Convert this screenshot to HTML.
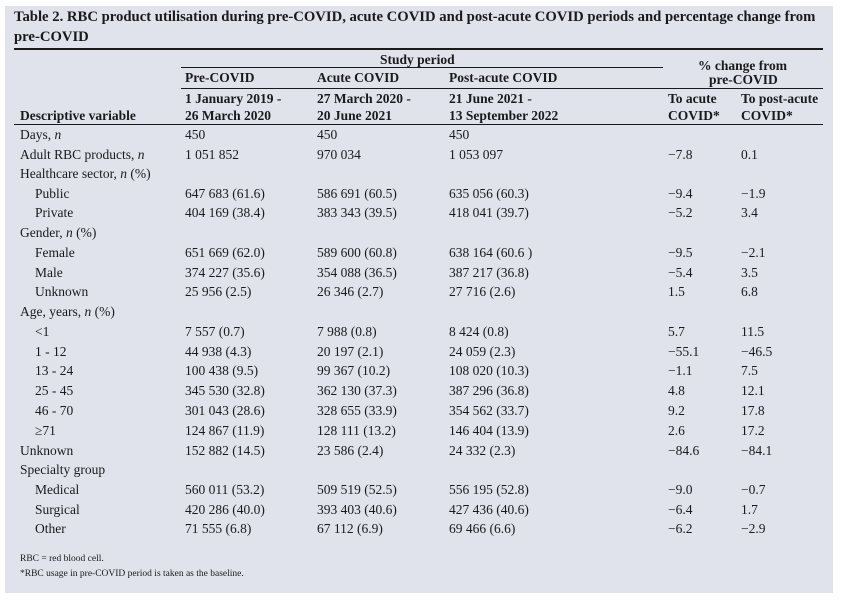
<!DOCTYPE html>
<html><head><meta charset="utf-8"><style>
body{margin:0;width:844px;height:601px;background:#fff;position:relative;overflow:hidden;font-family:"Liberation Serif",serif;color:#1a1a1a}
#box{position:absolute;left:5px;top:6px;width:828px;height:587px;background:#e1e3ec}
.t{position:absolute;font-size:13.5px;line-height:18px;white-space:nowrap}
.b{font-weight:bold}
.r{position:absolute;background:#1a1a1a}
.f{position:absolute;font-size:9.5px;line-height:12px;white-space:nowrap}
</style></head><body>
<div id="box"></div>
<div class="t b" style="left:14px;top:8px;font-size:14.7px">Table 2. RBC product utilisation during pre-COVID, acute COVID and post-acute COVID periods and percentage change from</div>
<div class="t b" style="left:14px;top:28px;font-size:14.7px">pre-COVID</div>
<div class="r" style="left:14px;top:48px;width:809px;height:2px"></div>
<div class="t b" style="left:380px;top:51px">Study period</div>
<div class="r" style="left:181px;top:67px;width:482px;height:1px"></div>
<div class="t b" style="left:698px;top:57px">% change from</div>
<div class="t b" style="left:709px;top:71px">pre-COVID</div>
<div class="t b" style="left:185px;top:69px">Pre-COVID</div>
<div class="t b" style="left:317px;top:69px">Acute COVID</div>
<div class="t b" style="left:449px;top:69px">Post-acute COVID</div>
<div class="r" style="left:181px;top:88px;width:642px;height:1px"></div>
<div class="t b" style="left:185px;top:90px">1 January 2019 -</div>
<div class="t b" style="left:185px;top:107px">26 March 2020</div>
<div class="t b" style="left:317px;top:90px">27 March 2020 -</div>
<div class="t b" style="left:317px;top:107px">20 June 2021</div>
<div class="t b" style="left:449px;top:90px">21 June 2021 -</div>
<div class="t b" style="left:449px;top:107px">13 September 2022</div>
<div class="t b" style="left:668px;top:90px">To acute</div>
<div class="t b" style="left:668px;top:107px">COVID*</div>
<div class="t b" style="left:741px;top:90px">To post-acute</div>
<div class="t b" style="left:741px;top:107px">COVID*</div>
<div class="t b" style="left:20px;top:107px">Descriptive variable</div>
<div class="r" style="left:14px;top:124px;width:809px;height:1px"></div>

<div class="t" style="left:20px;top:126px">Days, <i>n</i></div><div class="t" style="left:185px;top:126px">450</div><div class="t" style="left:317px;top:126px">450</div><div class="t" style="left:449px;top:126px">450</div>
<div class="t" style="left:20px;top:146px">Adult RBC products, <i>n</i></div><div class="t" style="left:185px;top:146px">1 051 852</div><div class="t" style="left:317px;top:146px">970 034</div><div class="t" style="left:449px;top:146px">1 053 097</div><div class="t" style="left:668px;top:146px">−7.8</div><div class="t" style="left:741px;top:146px">0.1</div>
<div class="t" style="left:20px;top:165px">Healthcare sector, <i>n</i> (%)</div>
<div class="t" style="left:35px;top:185px">Public</div><div class="t" style="left:185px;top:185px">647 683 (61.6)</div><div class="t" style="left:317px;top:185px">586 691 (60.5)</div><div class="t" style="left:449px;top:185px">635 056 (60.3)</div><div class="t" style="left:668px;top:185px">−9.4</div><div class="t" style="left:741px;top:185px">−1.9</div>
<div class="t" style="left:35px;top:204px">Private</div><div class="t" style="left:185px;top:204px">404 169 (38.4)</div><div class="t" style="left:317px;top:204px">383 343 (39.5)</div><div class="t" style="left:449px;top:204px">418 041 (39.7)</div><div class="t" style="left:668px;top:204px">−5.2</div><div class="t" style="left:741px;top:204px">3.4</div>
<div class="t" style="left:20px;top:224px">Gender, <i>n</i> (%)</div>
<div class="t" style="left:35px;top:244px">Female</div><div class="t" style="left:185px;top:244px">651 669 (62.0)</div><div class="t" style="left:317px;top:244px">589 600 (60.8)</div><div class="t" style="left:449px;top:244px">638 164 (60.6 )</div><div class="t" style="left:668px;top:244px">−9.5</div><div class="t" style="left:741px;top:244px">−2.1</div>
<div class="t" style="left:35px;top:264px">Male</div><div class="t" style="left:185px;top:264px">374 227 (35.6)</div><div class="t" style="left:317px;top:264px">354 088 (36.5)</div><div class="t" style="left:449px;top:264px">387 217 (36.8)</div><div class="t" style="left:668px;top:264px">−5.4</div><div class="t" style="left:741px;top:264px">3.5</div>
<div class="t" style="left:35px;top:283px">Unknown</div><div class="t" style="left:185px;top:283px">25 956 (2.5)</div><div class="t" style="left:317px;top:283px">26 346 (2.7)</div><div class="t" style="left:449px;top:283px">27 716 (2.6)</div><div class="t" style="left:668px;top:283px">1.5</div><div class="t" style="left:741px;top:283px">6.8</div>
<div class="t" style="left:20px;top:303px">Age, years, <i>n</i> (%)</div>
<div class="t" style="left:35px;top:323px">&lt;1</div><div class="t" style="left:185px;top:323px">7 557 (0.7)</div><div class="t" style="left:317px;top:323px">7 988 (0.8)</div><div class="t" style="left:449px;top:323px">8 424 (0.8)</div><div class="t" style="left:668px;top:323px">5.7</div><div class="t" style="left:741px;top:323px">11.5</div>
<div class="t" style="left:35px;top:343px">1 - 12</div><div class="t" style="left:185px;top:343px">44 938 (4.3)</div><div class="t" style="left:317px;top:343px">20 197 (2.1)</div><div class="t" style="left:449px;top:343px">24 059 (2.3)</div><div class="t" style="left:668px;top:343px">−55.1</div><div class="t" style="left:741px;top:343px">−46.5</div>
<div class="t" style="left:35px;top:362px">13 - 24</div><div class="t" style="left:185px;top:362px">100 438 (9.5)</div><div class="t" style="left:317px;top:362px">99 367 (10.2)</div><div class="t" style="left:449px;top:362px">108 020 (10.3)</div><div class="t" style="left:668px;top:362px">−1.1</div><div class="t" style="left:741px;top:362px">7.5</div>
<div class="t" style="left:35px;top:382px">25 - 45</div><div class="t" style="left:185px;top:382px">345 530 (32.8)</div><div class="t" style="left:317px;top:382px">362 130 (37.3)</div><div class="t" style="left:449px;top:382px">387 296 (36.8)</div><div class="t" style="left:668px;top:382px">4.8</div><div class="t" style="left:741px;top:382px">12.1</div>
<div class="t" style="left:35px;top:402px">46 - 70</div><div class="t" style="left:185px;top:402px">301 043 (28.6)</div><div class="t" style="left:317px;top:402px">328 655 (33.9)</div><div class="t" style="left:449px;top:402px">354 562 (33.7)</div><div class="t" style="left:668px;top:402px">9.2</div><div class="t" style="left:741px;top:402px">17.8</div>
<div class="t" style="left:35px;top:422px">≥71</div><div class="t" style="left:185px;top:422px">124 867 (11.9)</div><div class="t" style="left:317px;top:422px">128 111 (13.2)</div><div class="t" style="left:449px;top:422px">146 404 (13.9)</div><div class="t" style="left:668px;top:422px">2.6</div><div class="t" style="left:741px;top:422px">17.2</div>
<div class="t" style="left:20px;top:442px">Unknown</div><div class="t" style="left:185px;top:442px">152 882 (14.5)</div><div class="t" style="left:317px;top:442px">23 586 (2.4)</div><div class="t" style="left:449px;top:442px">24 332 (2.3)</div><div class="t" style="left:668px;top:442px">−84.6</div><div class="t" style="left:741px;top:442px">−84.1</div>
<div class="t" style="left:20px;top:461px">Specialty group</div>
<div class="t" style="left:35px;top:481px">Medical</div><div class="t" style="left:185px;top:481px">560 011 (53.2)</div><div class="t" style="left:317px;top:481px">509 519 (52.5)</div><div class="t" style="left:449px;top:481px">556 195 (52.8)</div><div class="t" style="left:668px;top:481px">−9.0</div><div class="t" style="left:741px;top:481px">−0.7</div>
<div class="t" style="left:35px;top:501px">Surgical</div><div class="t" style="left:185px;top:501px">420 286 (40.0)</div><div class="t" style="left:317px;top:501px">393 403 (40.6)</div><div class="t" style="left:449px;top:501px">427 436 (40.6)</div><div class="t" style="left:668px;top:501px">−6.4</div><div class="t" style="left:741px;top:501px">1.7</div>
<div class="t" style="left:35px;top:520px">Other</div><div class="t" style="left:185px;top:520px">71 555 (6.8)</div><div class="t" style="left:317px;top:520px">67 112 (6.9)</div><div class="t" style="left:449px;top:520px">69 466 (6.6)</div><div class="t" style="left:668px;top:520px">−6.2</div><div class="t" style="left:741px;top:520px">−2.9</div>
<div class="f" style="left:20px;top:553px">RBC = red blood cell.</div>
<div class="f" style="left:20px;top:568px">*RBC usage in pre-COVID period is taken as the baseline.</div>
</body></html>
